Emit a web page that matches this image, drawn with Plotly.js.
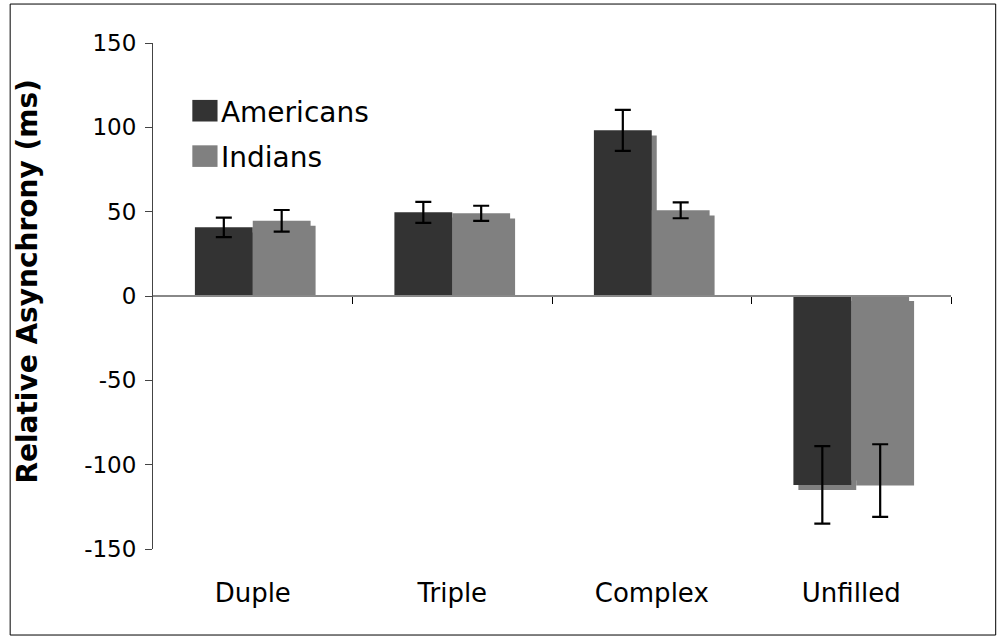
<!DOCTYPE html>
<html>
<head>
<meta charset="utf-8">
<script src="https://cdn.plot.ly/plotly-3.0.1.min.js"></script>
<style>
  html, body { margin: 0; padding: 0; background: #fff; }
  #chart { width: 1000px; height: 638px; }
  /* bigger square legend swatches, sitting closer to the text like the original */
  #chart .legend .legendpoints path { transform: translate(24px, 0px) scale(2.1, 1.8); }
</style>
</head>
<body>
<div id="chart"></div>
<script>
var categories = ['Duple', 'Triple', 'Complex', 'Unfilled'];
var americans = [40.7, 49.6, 98.2, -112];
var americansErr = [5.8, 6.2, 12.2, 23];
var indians = [44.6, 49.0, 50.8, -109.4];
var indiansErr = [6.4, 4.5, 4.7, 21.5];
var yTickVals = [150, 100, 50, 0, -50, -100, -150];
var yTickText = ['150', '100', '50', '0', '-50', '-100', '-150'];

var DARK = '#333333';
var GREY = '#808080';
var BAR_W = 0.29;
var SHADOW_X = 0.025;   // shadow shift, in category units
var SHADOW_Y = 3;       // shadow drop, in ms

var xIdx = categories.map(function (c, i) { return i; });

// drop shadow behind a bar series: shifted right and down a bit
function shadowTrace(vals, offset) {
  return {
    type: 'bar',
    x: xIdx,
    y: vals.map(function (v) { return v > 0 ? v - SHADOW_Y : v; }),
    base: vals.map(function (v) { return v > 0 ? 0 : -SHADOW_Y; }),
    width: BAR_W,
    offset: offset + SHADOW_X,
    marker: { color: GREY, line: { width: 0 } },
    showlegend: false,
    hoverinfo: 'skip'
  };
}

function mainTrace(name, vals, err, color, offset) {
  return {
    type: 'bar',
    name: name,
    legendgroup: name,
    x: xIdx,
    y: vals,
    width: BAR_W,
    offset: offset,
    marker: { color: color, line: { width: 0 } },
    error_y: { type: 'data', array: err, visible: true, color: '#000', thickness: 2.2, width: 8 }
  };
}

var traces = [
  shadowTrace(americans, -BAR_W),
  shadowTrace(indians, 0),
  mainTrace('Americans', americans, americansErr, DARK, -BAR_W),
  mainTrace('Indians', indians, indiansErr, GREY, 0)
];

var font = 'DejaVu Sans, Verdana, sans-serif';

var layout = {
  width: 1000,
  height: 638,
  margin: { l: 153, r: 49, t: 43, b: 89 },
  paper_bgcolor: '#fff',
  plot_bgcolor: 'rgba(0,0,0,0)',
  barmode: 'overlay',
  font: { family: font, color: '#000' },
  showlegend: true,
  legend: {
    x: 0.035, y: 0.915, xanchor: 'left', yanchor: 'top',
    font: { size: 28, family: font, color: '#000' },
    bgcolor: 'rgba(0,0,0,0)',
    itemwidth: 30,
    tracegroupgap: 6,
    traceorder: 'grouped'
  },
  xaxis: {
    type: 'linear',
    range: [-0.5, 3.5],
    tickvals: xIdx,
    ticktext: categories,
    ticks: '',
    showline: false,
    showgrid: false,
    zeroline: false,
    tickfont: { size: 26, family: font, color: '#000' },
    ticklabelstandoff: 26
  },
  xaxis2: {
    overlaying: 'x',
    anchor: 'free',
    position: 0.5,
    range: [-0.5, 3.5],
    tickvals: [0.5, 1.5, 2.5, 3.5],
    ticks: 'outside',
    ticklen: 7,
    tickcolor: '#000',
    tickwidth: 1,
    showticklabels: false,
    showline: true,
    linecolor: '#888888',
    linewidth: 2,
    showgrid: false,
    zeroline: false
  },
  yaxis: {
    range: [-150, 150],
    tickvals: yTickVals,
    ticktext: yTickText,
    ticks: 'outside',
    ticklen: 7,
    tickcolor: '#444',
    showline: true,
    linecolor: '#444',
    linewidth: 1,
    showgrid: false,
    zeroline: false,
    tickfont: { size: 23, family: font, color: '#000' },
    ticklabelstandoff: 4,
    title: {
      // leading spaces nudge the rotated title up, as in the original
      text: '<b>&nbsp;&nbsp;&nbsp;Relative Asynchrony (ms)</b>',
      font: { size: 28, family: font, color: '#000' },
      standoff: 38
    }
  },
  shapes: [{
    type: 'rect', xref: 'paper', yref: 'paper',
    x0: -0.179, x1: 1.056, y0: -0.170, y1: 1.077,
    line: { color: '#000', width: 1 }
  }]
};

// dummy trace so xaxis2 (the line at zero with category ticks) gets drawn
traces.push({ type: 'scatter', x: [], y: [], xaxis: 'x2', showlegend: false, hoverinfo: 'skip' });

Plotly.newPlot('chart', traces, layout, { staticPlot: true });
</script>
</body>
</html>
